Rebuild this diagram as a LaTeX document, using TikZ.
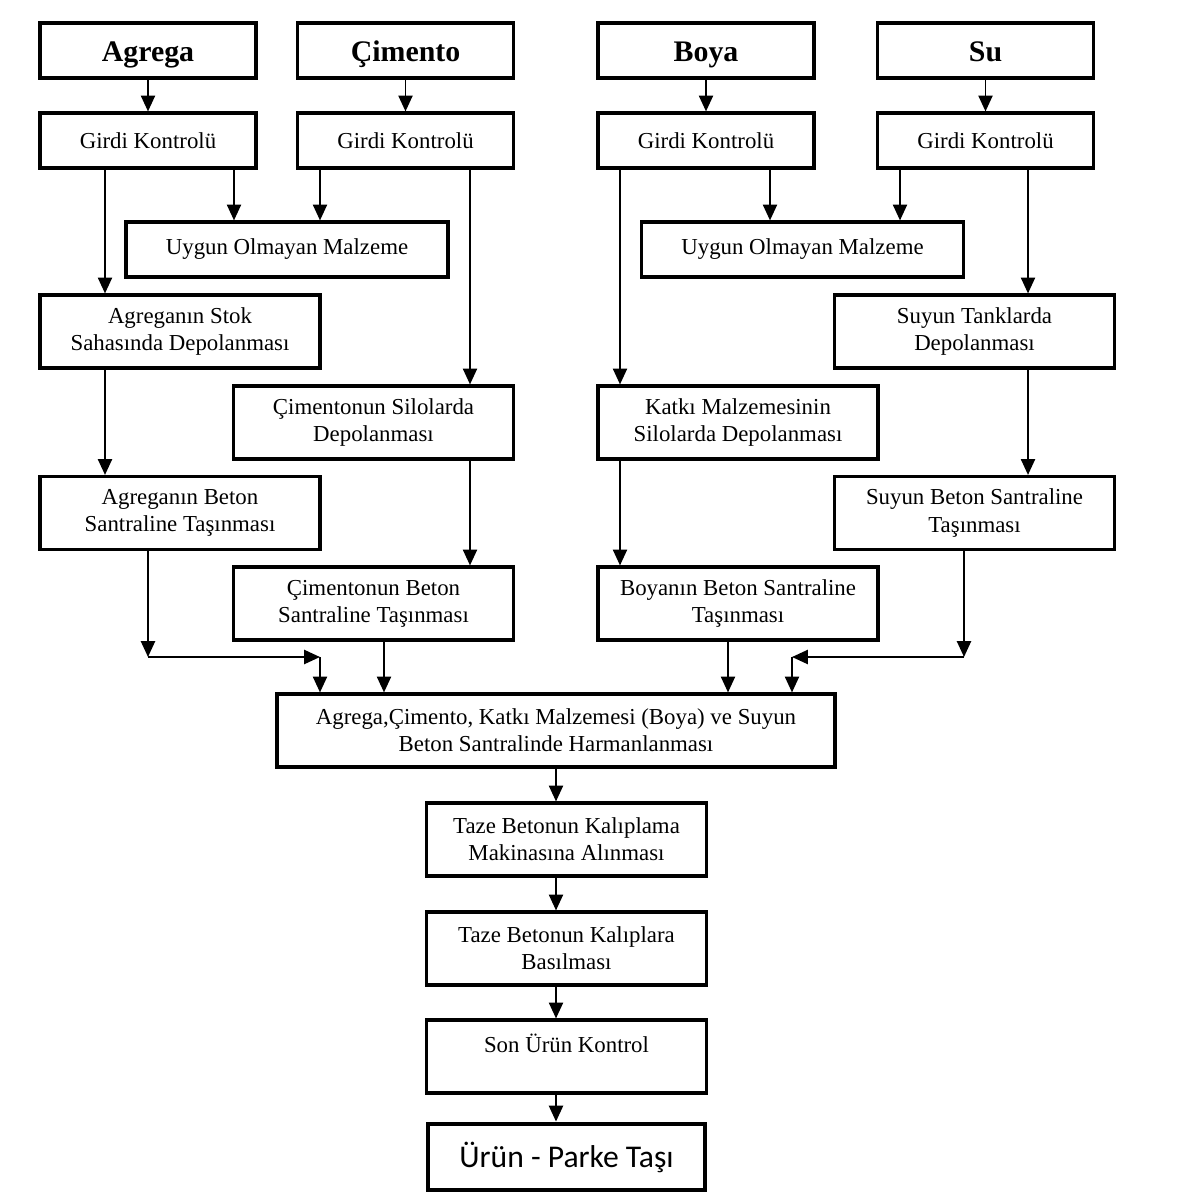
\documentclass[tikz,border=0pt]{standalone}
\usepackage{fontspec}
\setmainfont{Liberation Serif}
\newfontfamily\urunfont{Carlito}
\usetikzlibrary{arrows.meta}
\begin{document}
\begin{tikzpicture}[
        x=0.02cm, y=-0.02cm,
        box/.style={draw, line width=1.8pt, inner sep=0pt, align=center, font=\fontsize{13}{15.5}\selectfont},
        headn/.style={box, minimum width=4.32cm, minimum height=1.1cm, text height=13pt, text depth=0pt, font=\fontsize{17}{20}\selectfont\bfseries},
        girdin/.style={box, minimum width=4.32cm, minimum height=1.1cm},
        rejectn/.style={box, minimum width=6.44cm, minimum height=1.1cm},
        stepn/.style={box, minimum width=5.6cm, minimum height=1.46cm},
        mixn/.style={box, minimum width=11.16cm, minimum height=1.46cm},
        finaln/.style={draw, line width=2.8pt, inner sep=0pt, minimum width=5.54cm, minimum height=1.32cm, font=\urunfont\fontsize{18}{21}\selectfont},
        arr/.style={-{Triangle[length=9pt, width=8pt]}, line width=1.1pt},
    ]
    \useasboundingbox (0,0) rectangle (1177,1200);

    \node[headn](agrega) at (148,50.5){Agrega};
    \node[headn](cimento) at (405.5,50.5){Çimento};
    \node[headn](boya) at (706,50.5){Boya};
    \node[headn](su) at (985.5,50.5){Su};

    \node[girdin](gk1) at (148,140.5){Girdi Kontrolü};
    \node[girdin](gk2) at (405.5,140.5){Girdi Kontrolü};
    \node[girdin](gk3) at (706,140.5){Girdi Kontrolü};
    \node[girdin](gk4) at (985.5,140.5){Girdi Kontrolü};

    \node[rejectn](uygunL) at (287,249.5){Uygun Olmayan Malzeme};
    \node[rejectn](uygunR) at (802.5,249.5){Uygun Olmayan Malzeme};

    \node[stepn](stok) at (180,331.5){Agreganın Stok\\Sahasında Depolanması};
    \node[stepn](tank) at (974.5,331.5){Suyun Tanklarda\\Depolanması};
    \node[stepn](silo) at (373.5,422.5){Çimentonun Silolarda\\Depolanması};
    \node[stepn](katki) at (738,422.5){Katkı Malzemesinin\\Silolarda Depolanması};
    \node[stepn](agrbeton) at (180,513){Agreganın Beton\\Santraline Taşınması};
    \node[stepn](subeton) at (974.5,513){Suyun Beton Santraline\\Taşınması};
    \node[stepn](cimbeton) at (373.5,603.5){Çimentonun Beton\\Santraline Taşınması};
    \node[stepn](boyabeton) at (738,603.5){Boyanın Beton Santraline\\Taşınması};

    \node[mixn](harman) at (556,730.5){Agrega,Çimento, Katkı Malzemesi (Boya) ve Suyun\\Beton Santralinde Harmanlanması};
    \node[stepn](taze1) at (566.5,839.5){Taze Betonun Kalıplama\\Makinasına Alınması};
    \node[stepn](taze2) at (566.5,948.5){Taze Betonun Kalıplara\\Basılması};
    \node[stepn](son) at (566.5,1056.5){Son Ürün Kontrol\\[-5pt]\strut};
    \node[finaln](urun) at (566.5,1157){Ürün - Parke Taşı};

    \coordinate (jl1) at (148,657);
    \coordinate (jl2) at (320,657);
    \coordinate (jr1) at (964,657);
    \coordinate (jr2) at (792,657);

    \draw[arr] (agrega) -- (gk1);
    \draw[arr] (cimento) -- (gk2);
    \draw[arr] (boya) -- (gk3);
    \draw[arr] (su) -- (gk4);

    \draw[arr] (gk1.south -| 234,0) -- (uygunL.north -| 234,0);
    \draw[arr] (gk2.south -| 320,0) -- (uygunL.north -| 320,0);
    \draw[arr] (gk3.south -| 770,0) -- (uygunR.north -| 770,0);
    \draw[arr] (gk4.south -| 900,0) -- (uygunR.north -| 900,0);

    \draw[arr] (gk1.south -| 105,0) -- (stok.north -| 105,0);
    \draw[arr] (stok.south -| 105,0) -- (agrbeton.north -| 105,0);
    \draw[arr] (gk2.south -| 470,0) -- (silo.north -| 470,0);
    \draw[arr] (silo.south -| 470,0) -- (cimbeton.north -| 470,0);
    \draw[arr] (gk3.south -| 620,0) -- (katki.north -| 620,0);
    \draw[arr] (katki.south -| 620,0) -- (boyabeton.north -| 620,0);
    \draw[arr] (gk4.south -| 1028,0) -- (tank.north -| 1028,0);
    \draw[arr] (tank.south -| 1028,0) -- (subeton.north -| 1028,0);

    \draw[arr] (agrbeton.south -| jl1) -- (jl1);
    \draw[arr] (jl1) -- (jl2);
    \draw[arr] (jl2) -- (harman.north -| jl2);
    \draw[arr] (cimbeton.south -| 384,0) -- (harman.north -| 384,0);
    \draw[arr] (boyabeton.south -| 728,0) -- (harman.north -| 728,0);
    \draw[arr] (subeton.south -| jr1) -- (jr1);
    \draw[arr] (jr1) -- (jr2);
    \draw[arr] (jr2) -- (harman.north -| jr2);

    \draw[arr] (harman.south -| 556,0) -- (taze1.north -| 556,0);
    \draw[arr] (taze1.south -| 556,0) -- (taze2.north -| 556,0);
    \draw[arr] (taze2.south -| 556,0) -- (son.north -| 556,0);
    \draw[arr] (son.south -| 556,0) -- (urun.north -| 556,0);
    \end{tikzpicture}
\end{document}
